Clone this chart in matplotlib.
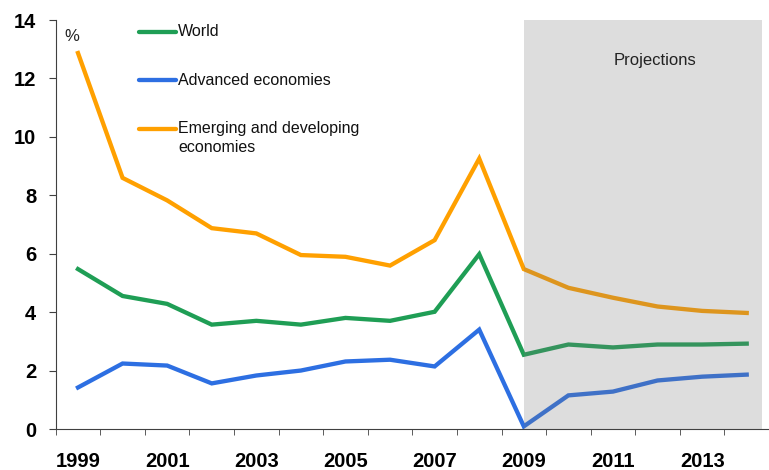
import matplotlib
matplotlib.use('Agg')
import matplotlib.pyplot as plt
import numpy as np

plt.rcParams['font.family'] = ['Liberation Sans', 'DejaVu Sans']

years = np.arange(1999, 2015)
world = [5.48, 4.56, 4.29, 3.58, 3.71, 3.58, 3.81, 3.71, 4.02, 5.99,
         2.55, 2.90, 2.80, 2.90, 2.90, 2.93]
advanced = [1.43, 2.25, 2.18, 1.57, 1.84, 2.01, 2.32, 2.38, 2.15, 3.41,
            0.10, 1.16, 1.29, 1.67, 1.80, 1.87]
emerging = [12.87, 8.60, 7.83, 6.88, 6.70, 5.96, 5.90, 5.60, 6.47, 9.26,
            5.48, 4.84, 4.50, 4.20, 4.05, 3.98]
labels = ['World', 'Advanced economies', 'Emerging and developing\neconomies']
colors = ['#1f9e55', '#2d6fe2', '#ffa000']
proj_start = 2009

fig = plt.figure(figsize=(7.69, 4.70), dpi=100)
# axes: x from 55.7px to right edge, y from 20px (14) to 429.3px (0)
ax = fig.add_axes([55.7/769, (470-429.3)/470, (769-55.7)/769, 409.3/470])

xmax = 1998.5 + (769 - 55.7) / 45.0
# translucent grey on top of the lines -> #dddddd over white, mutes the lines
ax.axvspan(proj_start, xmax, color='#787878', alpha=0.25, zorder=3, lw=0)
ax.text(0.84, 0.902, 'Projections', transform=ax.transAxes, ha='center',
        va='center', fontsize=12, color='#222222', zorder=4)

for s, c in zip([world, advanced, emerging], colors):
    ax.plot(years, s, color=c, lw=3.1, solid_joinstyle='miter', zorder=2)

ax.set_xlim(1998.5, xmax)
ax.set_ylim(0, 14)
ax.set_yticks(np.arange(0, 15, 2))
ax.set_xticks(years[::2])
ax.set_xticks(np.arange(1998.5, 2015, 1), minor=True)
ax.tick_params(axis='x', which='major', length=0, pad=16)
ax.tick_params(axis='x', which='minor', length=4, direction='out', color='#404040')
ax.tick_params(axis='y', length=5, direction='out', color='#404040', pad=9)
for lbl in ax.get_xticklabels() + ax.get_yticklabels():
    lbl.set_fontweight('bold')
    lbl.set_fontsize(14.5)

for sp in ['top', 'right']:
    ax.spines[sp].set_visible(False)
ax.spines['left'].set_color('#404040')
ax.spines['bottom'].set_color('#404040')
ax.spines['bottom'].set_zorder(5)

ax.text(1999 - 0.13, 13.42, '%', ha='center', va='center', fontsize=12, color='#222222')

# legend keys drawn by hand (first line of each label aligned with the key)
key_y = [0.9714, 0.8534, 0.7337]
for lab, c, ky in zip(labels, colors, key_y):
    ax.plot([0.1168, 0.1687], [ky, ky], transform=ax.transAxes, color=c,
            lw=3.1, solid_capstyle='round')
    ax.text(0.1715, ky, lab.split('\n')[0], transform=ax.transAxes,
            ha='left', va='center', fontsize=11.5, color='#111111')
    if '\n' in lab:
        ax.text(0.1715, ky - 0.044, lab.split('\n')[1], transform=ax.transAxes,
                ha='left', va='center', fontsize=11.5, color='#111111')

fig.savefig('out.png', dpi=100)
